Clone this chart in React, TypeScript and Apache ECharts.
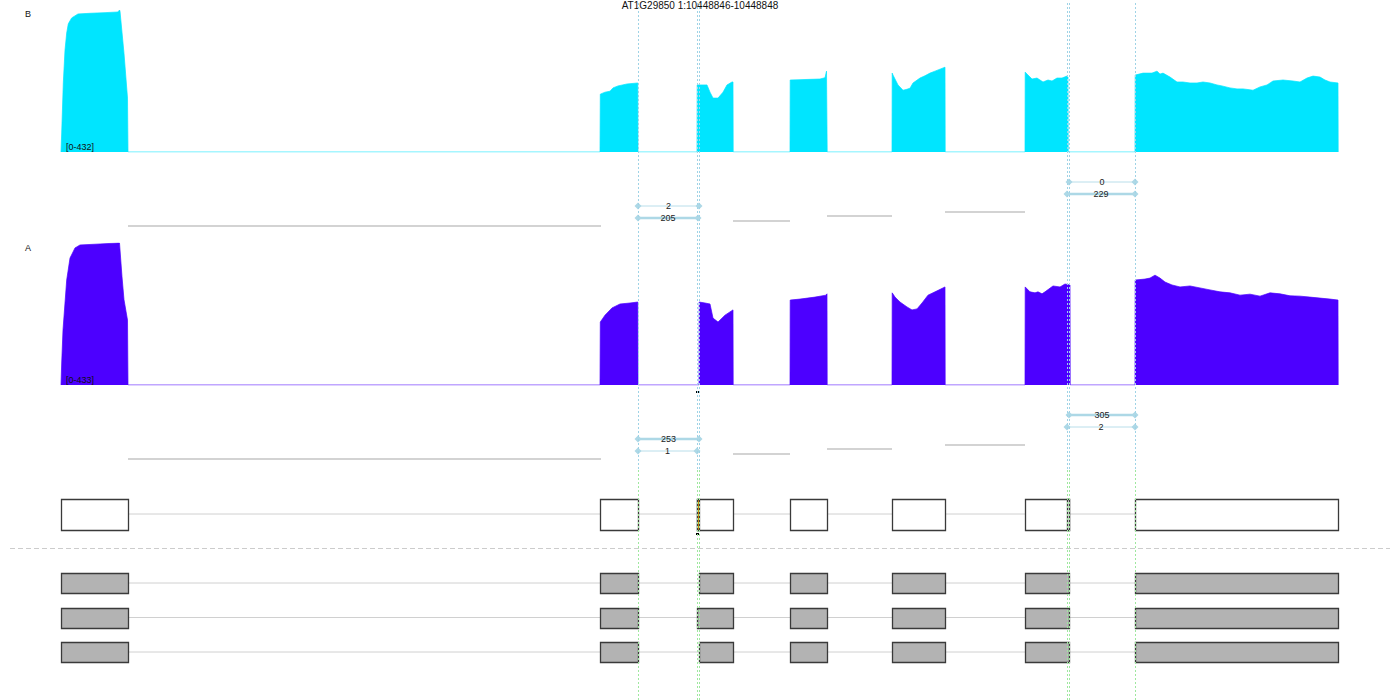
import React, { useEffect, useRef } from 'react';
import * as echarts from 'echarts';

// x unit = 1 bp, x = 0 corresponds to genomic position 10448149 (chr 1)
const WINDOW_START = 10448149;
const WINDOW_LEN = 1400;
const TITLE = 'AT1G29850 1:10448846-10448848';

const SAMPLE_B = 'B';
const SAMPLE_A = 'A';
const RANGE_B = '[0-432]';
const RANGE_A = '[0-433]';
const MAX_B = 432;
const MAX_A = 433;

// coverage [position, reads]
const covB: [number, number][] = [
  [61, 0], [61.7, 58], [63.3, 210], [65, 310], [66.7, 362], [68.3, 390], [71.7, 408], [78, 420], [90, 422], [105, 424],
  [118, 426], [119.5, 432], [120, 428], [124, 300], [127.5, 164], [128, 0],
  [600, 0], [600.3, 176], [605, 182], [610, 185], [613, 195], [618, 201], [627, 207], [637.8, 210], [638, 0],
  [697, 0], [697.2, 204], [707, 204], [710, 182], [713, 164], [718, 164], [723, 182], [727, 204], [732, 213], [733, 213], [733.2, 0],
  [790, 0], [790.2, 219], [800, 220], [810, 221], [820, 222], [825, 226], [826.5, 246], [827, 246], [827.2, 0],
  [892, 0], [892.2, 240], [893, 234], [898, 204], [903, 188], [906, 190], [910, 194], [913, 210], [920, 225], [925, 232],
  [930, 240], [935, 246], [940, 252], [945, 258], [945.2, 0],
  [1025, 0], [1025.2, 243], [1028, 234], [1032, 222], [1037, 225], [1043, 213], [1048, 219], [1052, 216], [1057, 225],
  [1062, 225], [1067, 231], [1068, 228], [1068.2, 0],
  [1135, 0], [1135.2, 234], [1143, 240], [1152, 240], [1157, 246], [1160, 237], [1163, 240], [1170, 228], [1177, 213],
  [1183, 213], [1190, 210], [1197, 210], [1203, 213], [1210, 210], [1217, 204], [1222, 201], [1230, 195], [1237, 192],
  [1243, 192], [1248, 190], [1253, 188], [1260, 198], [1267, 204], [1273, 216], [1283, 219], [1293, 216], [1300, 213],
  [1307, 225], [1313, 231], [1320, 228], [1325, 219], [1330, 213], [1338, 210], [1338.2, 0],
];

const covA: [number, number][] = [
  [61, 0], [61.7, 67], [63, 168], [66.7, 320], [70, 387], [75, 418], [80, 427], [100, 430], [118, 433], [119.5, 433],
  [122, 330], [124, 260], [127.5, 198], [128, 0],
  [600, 0], [600.3, 192], [605, 213], [612, 235], [620, 247], [630, 250], [637.8, 253], [638, 0],
  [699, 0], [699.2, 253], [705, 250], [710, 247], [713, 204], [718, 192], [725, 213], [733, 229], [733.2, 0],
  [790, 0], [790.2, 259], [800, 262], [815, 268], [826, 274], [827, 278], [827.2, 0],
  [892, 0], [892.2, 281], [895, 268], [900, 253], [907, 238], [912, 229], [917, 232], [922, 250], [928, 274], [935, 284],
  [945, 299], [945.2, 0],
  [1025, 0], [1025.2, 299], [1030, 284], [1035, 281], [1038, 284], [1042, 278], [1045, 284], [1053, 302], [1060, 299],
  [1065, 308], [1070, 305], [1070.2, 0],
  [1135, 0], [1135.2, 320], [1145, 323], [1150, 326], [1155, 335], [1160, 326], [1165, 314], [1172, 305], [1180, 299],
  [1190, 302], [1200, 296], [1210, 290], [1220, 284], [1230, 281], [1240, 274], [1250, 277], [1260, 271], [1270, 281],
  [1280, 278], [1290, 272], [1300, 271], [1310, 268], [1320, 265], [1330, 262], [1338, 259], [1338.2, 0],
];

// splice junctions: [start, end, level (track row), read count]
const juncB: [number, number, number, number][] = [
  [638, 699, 48, 2],
  [638, 698, 60, 205],
  [1069, 1135, 24, 0],
  [1067, 1135, 36, 229],
];
const juncA: [number, number, number, number][] = [
  [638, 699, 48, 253],
  [638, 697, 60, 1],
  [1069, 1135, 24, 305],
  [1067, 1135, 36, 2],
];
// annotated introns without counts: [start, end, level]
const intronsB: [number, number, number][] = [
  [128, 601, 68], [733, 790, 63], [827, 892, 58], [945, 1025, 54],
];
const intronsA: [number, number, number][] = [
  [128, 601, 68], [733, 790, 63], [827, 892, 58], [945, 1025, 54],
];

// splice-site guide lines
const siteLines = [638, 697, 699, 1067, 1069, 1135];
const markerPos = 697.5;

// transcripts: row, kind (0 = query/white, 1 = reference/gray), exons
const transcriptRows = [0, 2, 3, 4];
const transcriptKinds = [0, 1, 1, 1];
const transcriptExons: [number, number][][] = [
  [[61, 128], [600, 638], [697, 733], [790, 827], [892, 945], [1025, 1069], [1135, 1338]],
  [[61, 128], [600, 638], [699, 733], [790, 827], [892, 945], [1025, 1069], [1135, 1338]],
  [[61, 128], [600, 638], [697, 733], [790, 827], [892, 945], [1025, 1069], [1135, 1338]],
  [[61, 128], [600, 638], [699, 733], [790, 827], [892, 945], [1025, 1069], [1135, 1338]],
];
// highlighted sub-features on the query transcript: [start, end, row, kind]  (2 = orange, 0 = white)
const highlights: [number, number, number, number][] = [
  [697, 699, 0, 2],
  [1067, 1069, 0, 0],
];
const separatorRow = 1;

const CYAN = '#00e5ff';
const PURPLE = '#4c00ff';
const JUNC = '#add8e6';
const GUIDE_TOP = '#9fd3e6';
const GUIDE_BOTTOM = '#9fe89f';
const FONT = 'Liberation Sans, Arial, sans-serif';

function App() {
  const ref = useRef<HTMLDivElement>(null);
  useEffect(() => {
    if (!ref.current) return;
    const chart = echarts.init(ref.current, null, { renderer: 'svg' });

    const grids = [
      { left: 0, right: 0, top: 10, height: 142 }, // 0 coverage B
      { left: 0, right: 0, top: 158, height: 80 }, // 1 junctions B
      { left: 0, right: 0, top: 243, height: 142 }, // 2 coverage A
      { left: 0, right: 0, top: 391, height: 80 }, // 3 junctions A
      { left: 0, right: 0, top: 479.5, height: 207 }, // 4 gene models
      { left: 0, right: 0, top: 3, height: 467 }, // 5 overlay top
      { left: 0, right: 0, top: 470, height: 230 }, // 6 overlay bottom
    ];
    const xAxis = grids.map((_, i) => ({
      type: 'value', gridIndex: i, min: 0, max: WINDOW_LEN, show: false,
    }));
    const yAxis: any[] = [
      { type: 'value', gridIndex: 0, min: 0, max: MAX_B, show: false },
      { type: 'value', gridIndex: 1, min: 0, max: 80, inverse: true, show: false },
      { type: 'value', gridIndex: 2, min: 0, max: MAX_A, show: false },
      { type: 'value', gridIndex: 3, min: 0, max: 80, inverse: true, show: false },
      { type: 'value', gridIndex: 4, min: -1, max: 5, inverse: true, show: false },
      { type: 'value', gridIndex: 5, min: 0, max: 1, show: false },
      { type: 'value', gridIndex: 6, min: 0, max: 1, show: false },
    ];

    const series: any[] = [];
    const cov = (data: [number, number][], idx: number, color: string) => ({
      type: 'line', xAxisIndex: idx, yAxisIndex: idx, data, showSymbol: false, symbol: 'none',
      lineStyle: { color, width: 1, opacity: 0.7 }, areaStyle: { color, opacity: 1 }, z: 2, silent: true,
    });
    series.push(cov(covB, 0, CYAN));
    series.push(cov(covA, 2, PURPLE));

    const addJunctions = (juncs: [number, number, number, number][], introns: [number, number, number][], idx: number) => {
      introns.forEach(([s, e, lvl]) => {
        series.push({
          type: 'line', xAxisIndex: idx, yAxisIndex: idx, data: [[s, lvl], [e, lvl]], symbol: 'none',
          lineStyle: { color: '#d3d3d3', width: 2 }, silent: true, z: 3,
        });
      });
      juncs.forEach(([s, e, lvl, count]) => {
        const thick = count >= 100;
        series.push({
          type: 'line', xAxisIndex: idx, yAxisIndex: idx, symbol: 'diamond', symbolSize: 7, silent: true, z: 4,
          itemStyle: { color: JUNC },
          lineStyle: { color: JUNC, width: thick ? 2.5 : 1, opacity: thick ? 1 : 0.85 },
          data: [[s, lvl], [e, lvl]],
        });
      });
      // read-count labels
      series.push({
        type: 'custom', xAxisIndex: idx, yAxisIndex: idx, silent: true, z: 8,
        encode: { x: 0, y: 1 },
        data: juncs.map(([s, e, lvl, count]) => [(s + e) / 2, lvl, count]),
        renderItem: (params: any, api: any) => {
          const p = api.coord([api.value(0), api.value(1)]);
          return {
            type: 'text', x: p[0], y: p[1],
            style: {
              text: String(api.value(2)), fontSize: 9, fill: '#222', fontFamily: FONT,
              align: 'center', verticalAlign: 'middle',
            },
          };
        },
      });
    };
    addJunctions(juncB, intronsB, 1);
    addJunctions(juncA, intronsA, 3);

    // position markers
    const markerItem = (idx: number, row: number) => ({
      type: 'custom', xAxisIndex: idx, yAxisIndex: idx, silent: true, z: 5,
      encode: { x: 0, y: 1 },
      data: [[markerPos, row]],
      renderItem: (params: any, api: any) => {
        const p = api.coord([api.value(0), api.value(1)]);
        return { type: 'rect', shape: { x: p[0] - 1.5, y: p[1] - 1, width: 3, height: 2 }, style: { fill: '#000' } };
      },
    });
    series.push(markerItem(3, 1));
    series.push(markerItem(4, 0.58));

    // intron backbone lines
    transcriptExons.forEach((ex, i) => {
      series.push({
        type: 'line', xAxisIndex: 4, yAxisIndex: 4, symbol: 'none', silent: true, z: 1,
        data: [[ex[0][0], transcriptRows[i]], [ex[ex.length - 1][1], transcriptRows[i]]],
        lineStyle: { color: '#d0d0d0', width: 1 },
      });
    });
    // separator
    series.push({
      type: 'line', xAxisIndex: 4, yAxisIndex: 4, symbol: 'none', silent: true, z: 1,
      data: [[10, separatorRow], [1390, separatorRow]],
      lineStyle: { color: '#cccccc', width: 1, type: [5, 3] },
    });

    const exonData: number[][] = [];
    transcriptExons.forEach((ex, i) => ex.forEach(([s, e]) => exonData.push([s, e, transcriptRows[i], transcriptKinds[i]])));
    highlights.forEach((h) => exonData.push(h));
    const FILLS = ['#ffffff', '#b3b3b3', '#ffa500'];
    series.push({
      type: 'custom', xAxisIndex: 4, yAxisIndex: 4, silent: true, z: 3,
      encode: { x: [0, 1], y: 2 },
      data: exonData,
      renderItem: (params: any, api: any) => {
        const s = api.value(0), e = api.value(1), row = api.value(2), kind = api.value(3);
        const p1 = api.coord([s, row]);
        const p2 = api.coord([e, row]);
        const h = row === 0 ? 31 : 20;
        return {
          type: 'rect',
          shape: { x: p1[0] + 0.5, y: Math.round(p1[1] - h / 2) + 0.5, width: p2[0] - p1[0], height: h },
          style: { fill: FILLS[kind], stroke: '#3a3a3a', lineWidth: 1.3 },
        };
      },
    });

    // splice-site guide lines, drawn as dotted columns of tiny rects
    const guide = (idx: number, color: string) => ({
      type: 'custom', xAxisIndex: idx, yAxisIndex: idx, silent: true, z: 9,
      encode: { x: 0 },
      data: siteLines.map((x) => [x]),
      renderItem: (params: any, api: any) => {
        const top = api.coord([api.value(0), 1]);
        const bottom = api.coord([api.value(0), 0]);
        const x = Math.round(top[0]);
        const children: any[] = [];
        for (let y = top[1]; y < bottom[1] - 1; y += 4) {
          children.push({ type: 'rect', shape: { x, y, width: 1, height: 2 }, style: { fill: color } });
        }
        return { type: 'group', children };
      },
    });
    series.push(guide(5, GUIDE_TOP));
    series.push(guide(6, GUIDE_BOTTOM));

    const option: any = {
      animation: false,
      title: {
        text: TITLE, left: 'center', top: 0, padding: 0,
        textStyle: { fontSize: 10, fontWeight: 'normal', color: '#111', fontFamily: FONT },
      },
      grid: grids,
      xAxis,
      yAxis,
      series,
      graphic: [
        { type: 'text', left: 25, top: 9, style: { text: SAMPLE_B, fontSize: 9, fill: '#111', fontFamily: FONT } },
        { type: 'text', left: 66, top: 142, style: { text: RANGE_B, fontSize: 9, fill: '#111', fontFamily: FONT }, z: 10 },
        { type: 'text', left: 25, top: 243, style: { text: SAMPLE_A, fontSize: 9, fill: '#111', fontFamily: FONT } },
        { type: 'text', left: 66, top: 375, style: { text: RANGE_A, fontSize: 9, fill: '#111', fontFamily: FONT }, z: 10 },
      ],
    };
    chart.setOption(option);
    return () => chart.dispose();
  }, []);
  return <div ref={ref} style={{ position: 'absolute', left: 0, top: 0, width: 1400, height: 700 }} />;
}

export default App;
